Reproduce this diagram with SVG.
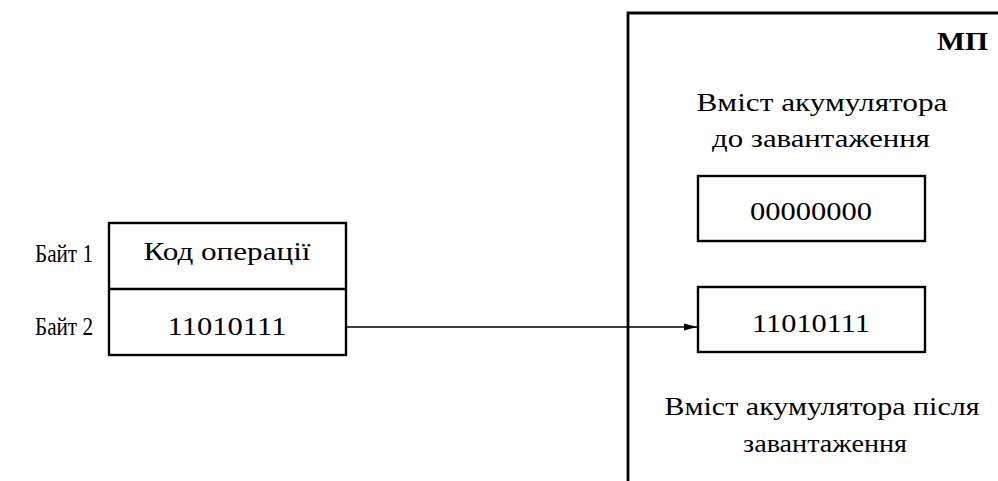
<svg xmlns="http://www.w3.org/2000/svg" width="998" height="481" viewBox="0 0 998 481" font-family="'Liberation Serif', 'Times New Roman', serif">
<style>
text{font-family:"Liberation Serif","Times New Roman",serif;font-size:26px;fill:#000}
.box{fill:none;stroke:#000;stroke-width:2.4}
.c{text-anchor:middle}
</style>
<defs>
<marker id="ah" markerWidth="13" markerHeight="8" refX="13" refY="4" orient="auto" markerUnits="userSpaceOnUse">
<path d="M0,0.5 L13,4 L0,7.5 Z" fill="#000"/>
</marker>
</defs>
<rect width="998" height="481" fill="#fff"/>
<g id="mp">
<path d="M628,481 V13 H1000" fill="none" stroke="#000" stroke-width="2.8"/>
<text x="988" y="50" text-anchor="end" font-weight="bold" textLength="51" lengthAdjust="spacingAndGlyphs">МП</text>
</g>
<g id="label-before">
<text class="c" x="822" y="111" textLength="251" lengthAdjust="spacingAndGlyphs">Вміст акумулятора</text>
<text class="c" x="821" y="147" textLength="218" lengthAdjust="spacingAndGlyphs">до завантаження</text>
</g>
<g id="acc-before">
<rect class="box" x="698" y="176" width="227" height="65"/>
<text class="c" x="811" y="220" textLength="122" lengthAdjust="spacingAndGlyphs">00000000</text>
</g>
<g id="acc-after">
<rect class="box" x="698" y="287" width="227" height="65"/>
<text class="c" x="811" y="332" textLength="118" lengthAdjust="spacingAndGlyphs">11010111</text>
</g>
<g id="label-after">
<text class="c" x="822" y="415" textLength="315" lengthAdjust="spacingAndGlyphs">Вміст акумулятора після</text>
<text class="c" x="825" y="452" textLength="164" lengthAdjust="spacingAndGlyphs">завантаження</text>
</g>
<g id="instr">
<rect class="box" x="109" y="223" width="237" height="132"/>
<line x1="109" y1="289" x2="346" y2="289" stroke="#000" stroke-width="2.4"/>
<text class="c" x="227" y="260" textLength="167" lengthAdjust="spacingAndGlyphs">Код операції</text>
<text class="c" x="227" y="335" textLength="119" lengthAdjust="spacingAndGlyphs">11010111</text>
</g>
<g id="byte-labels">
<text x="35" y="262" textLength="58" lengthAdjust="spacingAndGlyphs">Байт 1</text>
<text x="35" y="335" textLength="58" lengthAdjust="spacingAndGlyphs">Байт 2</text>
</g>
<g id="connectors">
<line x1="346" y1="327" x2="697" y2="327" stroke="#000" stroke-width="1.6" marker-end="url(#ah)"/>
</g>
</svg>
